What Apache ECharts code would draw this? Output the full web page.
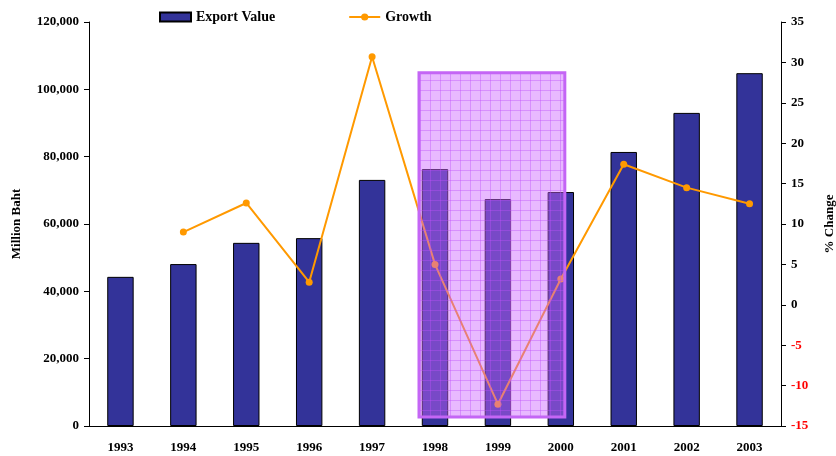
<!DOCTYPE html>
<html>
<head>
<meta charset="utf-8">
<script src="https://cdn.jsdelivr.net/npm/echarts@6/dist/echarts.min.js"></script>
<style>
html,body{margin:0;padding:0;background:#fff;}
#chart{width:836px;height:456px;}
</style>
</head>
<body>
<div id="chart"></div>
<script>
var years = ['1993','1994','1995','1996','1997','1998','1999','2000','2001','2002','2003'];
var exportValue = [44300, 48100, 54400, 55800, 73100, 76300, 67400, 69500, 81400, 93000, 104800];
var growth = [null, 9.0, 12.6, 2.8, 30.7, 5.0, -12.3, 3.2, 17.4, 14.5, 12.5];
var highlightFrom = '1998', highlightTo = '2000';

var serif = '"Liberation Serif","DejaVu Serif",serif';

var myChar = echarts.init(document.getElementById('chart'));
var myOption = {
	animation: false,
	textStyle: { fontFamily: serif },
	legend: {
		top: 10,
		left: 159,
		padding: 0,
		itemGap: 73,
		itemWidth: 31,
		itemHeight: 9,
		textStyle: { fontFamily: serif, fontWeight: 'bold', fontSize: 14, color: '#000' },
		data: [
			{ name: 'Export Value', icon: 'rect' },
			{ name: 'Growth' }
		]
	},
	grid: { left: 89, right: 55, top: 22, bottom: 30, outerBoundsMode: 'none', containLabel: false },
	xAxis: {
		type: 'category',
		data: years,
		axisLine: { lineStyle: { color: '#000', width: 1 } },
		axisTick: { length: 7, lineStyle: { color: '#000' } },
		axisLabel: { margin: 15, fontFamily: serif, fontWeight: 'bold', fontSize: 13, color: '#000' }
	},
	yAxis: [
		{
			type: 'value',
			min: 0, max: 120000, interval: 20000,
			name: 'Million Baht',
			nameLocation: 'middle',
			nameRotate: 90,
			nameGap: 66,
			nameTextStyle: { fontFamily: serif, fontWeight: 'bold', fontSize: 13, color: '#000' },
			splitLine: { show: false },
			axisLine: { show: true, lineStyle: { color: '#000' } },
			axisTick: { show: true, length: 5, lineStyle: { color: '#000' } },
			axisLabel: {
				margin: 10, fontFamily: serif, fontWeight: 'bold', fontSize: 13, color: '#000',
				formatter: function(v){ return v.toLocaleString('en-US'); }
			}
		},
		{
			type: 'value',
			min: -15, max: 35, interval: 5,
			name: '% Change',
			nameLocation: 'middle',
			nameRotate: 90,
			nameGap: 42,
			nameTextStyle: { fontFamily: serif, fontWeight: 'bold', fontSize: 13, color: '#000' },
			splitLine: { show: false },
			axisLine: { show: true, lineStyle: { color: '#000' } },
			axisTick: { show: true, length: 5, lineStyle: { color: '#000' } },
			axisLabel: {
				margin: 10, fontFamily: serif, fontWeight: 'bold', fontSize: 13,
				color: function(v){ return Number(v) < 0 ? '#ff0000' : '#000'; }
			}
		}
	],
	series: [
		{
			name: 'Export Value',
			type: 'bar',
			data: exportValue,
			barWidth: '42%',
			itemStyle: { color: '#333399', borderColor: '#000', borderWidth: 1 }
		},
		{
			name: 'Growth',
			type: 'line',
			yAxisIndex: 1,
			data: growth,
			symbol: 'circle',
			symbolSize: 7,
			lineStyle: { color: '#ff9900', width: 2 },
			itemStyle: { color: '#ff9900' }
		}
	]
};
myChar.setOption(myOption);

// highlighted period box (grid pattern)
var pat = document.createElement('canvas');
pat.width = 10; pat.height = 10;
var ctx = pat.getContext('2d');
ctx.fillStyle = 'rgba(205,100,255,0.45)';
ctx.fillRect(0, 0, 10, 10);
ctx.fillStyle = 'rgba(190,80,250,0.4)';
ctx.fillRect(0, 0, 10, 1);
ctx.fillRect(0, 0, 1, 10);

var x1 = myChar.convertToPixel({ xAxisIndex: 0 }, highlightFrom) - 16;
var x2 = myChar.convertToPixel({ xAxisIndex: 0 }, highlightTo) + 4;
var y1 = myChar.convertToPixel({ yAxisIndex: 0 }, 104900);
var y2 = myChar.convertToPixel({ yAxisIndex: 0 }, 2700);
myChar.setOption({
	graphic: [{
		type: 'rect',
		z: 100,
		shape: { x: x1, y: y1, width: x2 - x1, height: y2 - y1 },
		style: { fill: { image: pat, repeat: 'repeat' }, stroke: '#c466f5', lineWidth: 3 }
	}]
});
</script>
</body>
</html>
